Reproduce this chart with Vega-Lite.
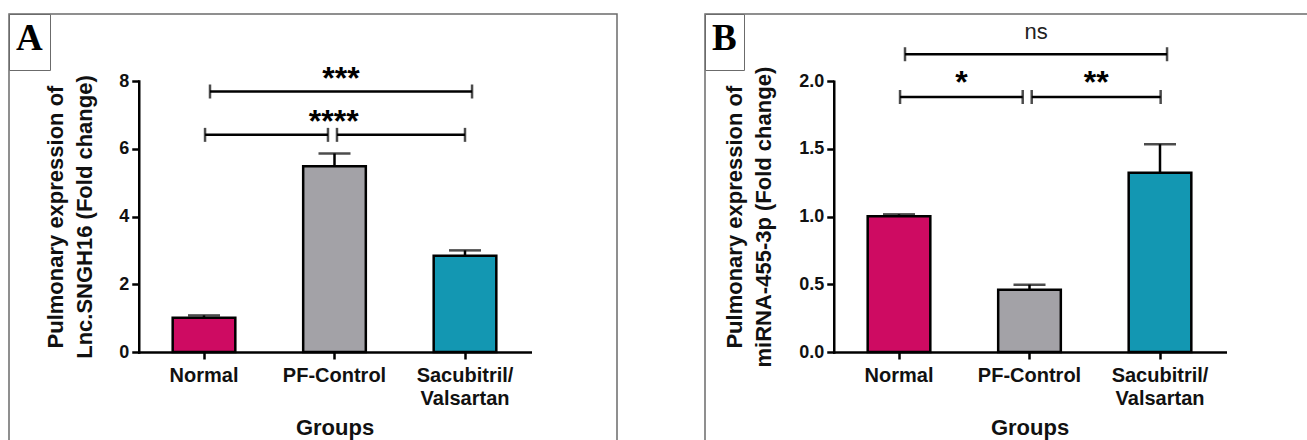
{
  "$schema": "https://vega.github.io/schema/vega-lite/v6.json",
  "padding": {"left": 7, "top": 12, "right": 0, "bottom": 0},
  "spacing": 85,
  "datasets": {
    "barsA": [
      {"group": "Normal", "mean": 1.01, "hi": 1.08, "panel": "A"},
      {"group": "PF-Control", "mean": 5.48, "hi": 5.86, "panel": "A"},
      {"group": "Sacubitril/Valsartan", "mean": 2.84, "hi": 3.0, "panel": "A"}
    ],
    "brA": [
      {"label": "***", "y": 7.69, "x1": 0.546, "x2": 2.554},
      {"label": "****", "y": 6.41, "x1": 0.508, "x2": 1.45},
      {"label": "****", "y": 6.41, "x1": 1.519, "x2": 2.5}
    ],
    "barsB": [
      {"group": "Normal", "mean": 1.003, "hi": 1.017, "panel": "B"},
      {"group": "PF-Control", "mean": 0.46, "hi": 0.497, "panel": "B"},
      {"group": "Sacubitril/Valsartan", "mean": 1.325, "hi": 1.535, "panel": "B"}
    ],
    "brB": [
      {"label": "ns", "y": 2.2, "x1": 0.546, "x2": 2.554},
      {"label": "*", "y": 1.884, "x1": 0.508, "x2": 1.448},
      {"label": "**", "y": 1.884, "x1": 1.517, "x2": 2.505}
    ]
  },
  "hconcat": [
    {
      "width": 608,
      "height": 440,
      "layer": [
        {
          "data": {"name": "barsA"},
          "encoding": {
            "x": {
              "field": "group", "type": "nominal", "sort": null, "title": "Groups",
              "scale": {"range": [129.75, 521.25], "paddingInner": 0.52, "paddingOuter": 0.26},
              "axis": {"offset": -102, "labelAngle": 0, "labelPadding": 6, "labelLineHeight": 23, "titlePadding": 9,
                "labelExpr": "datum.label == 'Sacubitril/Valsartan' ? ['Sacubitril/', 'Valsartan'] : datum.label"}
            }
          },
          "layer": [
            {
              "mark": {"type": "bar", "stroke": "#000", "strokeWidth": 2.5},
              "encoding": {
                "y": {"field": "mean", "type": "quantitative", "title": ["Pulmonary expression of", "Lnc.SNGH16 (Fold change)"],
                  "scale": {"domain": [0, 8], "nice": false, "range": [338, 67]},
                  "axis": {"offset": -129.75, "values": [0, 2, 4, 6, 8], "titlePadding": 22, "titleLineHeight": 29, "labelFontSize": 18}},
                "fill": {"field": "group", "type": "nominal", "legend": null,
                  "scale": {"domain": ["Normal", "PF-Control", "Sacubitril/Valsartan"], "range": ["#CE0B62", "#A3A2A7", "#1397B2"]}}
              }
            },
            {
              "mark": {"type": "rule", "color": "#000", "strokeWidth": 2.5},
              "encoding": {
                "y": {"field": "mean", "type": "quantitative", "title": ["Pulmonary expression of", "Lnc.SNGH16 (Fold change)"], "scale": {"domain": [0, 8], "nice": false, "range": [338, 67]}},
                "y2": {"field": "hi"}
              }
            },
            {
              "mark": {"type": "tick", "orient": "horizontal", "color": "#000", "size": 32, "thickness": 2.5},
              "encoding": {
                "y": {"field": "hi", "type": "quantitative", "title": ["Pulmonary expression of", "Lnc.SNGH16 (Fold change)"], "scale": {"domain": [0, 8], "nice": false, "range": [338, 67]}}
              }
            },
            {
              "mark": {"type": "point", "opacity": 0},
              "encoding": {
                "y": {"field": "mean", "type": "quantitative", "title": ["Pulmonary expression of", "Lnc.SNGH16 (Fold change)"], "scale": {"domain": [0, 8], "nice": false, "range": [338, 67]}},
                "shape": {"field": "panel", "type": "nominal",
                  "legend": {"orient": "top-left", "offset": 0, "title": "A", "padding": 7, "strokeColor": "#6b6b6b", "fillColor": "#ffffff",
                    "titleFont": "Liberation Serif", "titleFontWeight": "bold", "titleFontSize": 37, "titleColor": "#000", "titlePadding": 0,
                    "symbolSize": 0, "symbolOpacity": 0, "symbolStrokeWidth": 0, "labelOffset": 0, "labelFontSize": 0, "labelExpr": "''"}}
              }
            }
          ]
        },
        {
          "data": {"name": "brA"},
          "layer": [
            {
              "mark": {"type": "rule", "color": "#000", "strokeWidth": 2.5},
              "encoding": {
                "x": {"field": "x1", "type": "quantitative", "axis": null, "scale": {"domain": [0, 3], "range": [129.75, 521.25], "nice": false, "zero": false}},
                "x2": {"field": "x2"},
                "y": {"field": "y", "type": "quantitative", "title": ["Pulmonary expression of", "Lnc.SNGH16 (Fold change)"], "scale": {"domain": [0, 8], "nice": false, "range": [338, 67]}}
              }
            },
            {
              "transform": [{"fold": ["x1", "x2"], "as": ["end", "xv"]}],
              "mark": {"type": "tick", "orient": "vertical", "color": "#000", "size": 14, "thickness": 2.5},
              "encoding": {
                "x": {"field": "xv", "type": "quantitative", "axis": null, "scale": {"domain": [0, 3], "range": [129.75, 521.25], "nice": false, "zero": false}},
                "y": {"field": "y", "type": "quantitative", "title": ["Pulmonary expression of", "Lnc.SNGH16 (Fold change)"], "scale": {"domain": [0, 8], "nice": false, "range": [338, 67]}}
              }
            },
            {
              "transform": [{"fold": ["x1", "x2"], "as": ["end", "xv"]}],
              "mark": {"type": "text", "font": "Liberation Sans", "fontWeight": "bold", "fontSize": 32, "baseline": "alphabetic", "dy": -3, "color": "#000"},
              "encoding": {
                "x": {"field": "xv", "aggregate": "mean", "type": "quantitative", "axis": null, "scale": {"domain": [0, 3], "range": [129.75, 521.25], "nice": false, "zero": false}},
                "y": {"field": "y", "type": "quantitative", "title": ["Pulmonary expression of", "Lnc.SNGH16 (Fold change)"], "scale": {"domain": [0, 8], "nice": false, "range": [338, 67]}},
                "text": {"field": "label"}
              }
            }
          ]
        }
      ],
      "resolve": {"scale": {"x": "independent"}}
    },
    {
      "width": 606,
      "height": 440,
      "layer": [
        {
          "data": {"name": "barsB"},
          "encoding": {
            "x": {
              "field": "group", "type": "nominal", "sort": null, "title": "Groups",
              "scale": {"range": [128.75, 520.25], "paddingInner": 0.52, "paddingOuter": 0.26},
              "axis": {"offset": -102, "labelAngle": 0, "labelPadding": 6, "labelLineHeight": 23, "titlePadding": 9,
                "labelExpr": "datum.label == 'Sacubitril/Valsartan' ? ['Sacubitril/', 'Valsartan'] : datum.label"}
            }
          },
          "layer": [
            {
              "mark": {"type": "bar", "stroke": "#000", "strokeWidth": 2.5},
              "encoding": {
                "y": {"field": "mean", "type": "quantitative", "title": ["Pulmonary expression of", "miRNA-455-3p (Fold change)"],
                  "scale": {"domain": [0, 2], "nice": false, "range": [338, 67.3]},
                  "axis": {"offset": -128.75, "values": [0, 0.5, 1, 1.5, 2], "format": ".1f", "titlePadding": 23, "titleLineHeight": 29, "labelFontSize": 18}},
                "fill": {"field": "group", "type": "nominal", "legend": null,
                  "scale": {"domain": ["Normal", "PF-Control", "Sacubitril/Valsartan"], "range": ["#CE0B62", "#A3A2A7", "#1397B2"]}}
              }
            },
            {
              "mark": {"type": "rule", "color": "#000", "strokeWidth": 2.5},
              "encoding": {
                "y": {"field": "mean", "type": "quantitative", "title": ["Pulmonary expression of", "miRNA-455-3p (Fold change)"], "scale": {"domain": [0, 2], "nice": false, "range": [338, 67.3]}},
                "y2": {"field": "hi"}
              }
            },
            {
              "mark": {"type": "tick", "orient": "horizontal", "color": "#000", "size": 32, "thickness": 2.5},
              "encoding": {
                "y": {"field": "hi", "type": "quantitative", "title": ["Pulmonary expression of", "miRNA-455-3p (Fold change)"], "scale": {"domain": [0, 2], "nice": false, "range": [338, 67.3]}}
              }
            },
            {
              "mark": {"type": "point", "opacity": 0},
              "encoding": {
                "y": {"field": "mean", "type": "quantitative", "title": ["Pulmonary expression of", "miRNA-455-3p (Fold change)"], "scale": {"domain": [0, 2], "nice": false, "range": [338, 67.3]}},
                "shape": {"field": "panel", "type": "nominal",
                  "legend": {"orient": "top-left", "offset": 0, "title": "B", "padding": 7, "strokeColor": "#6b6b6b", "fillColor": "#ffffff",
                    "titleFont": "Liberation Serif", "titleFontWeight": "bold", "titleFontSize": 37, "titleColor": "#000", "titlePadding": 0,
                    "symbolSize": 0, "symbolOpacity": 0, "symbolStrokeWidth": 0, "labelOffset": 0, "labelFontSize": 0, "labelExpr": "''"}}
              }
            }
          ]
        },
        {
          "data": {"name": "brB"},
          "layer": [
            {
              "mark": {"type": "rule", "color": "#000", "strokeWidth": 2.5},
              "encoding": {
                "x": {"field": "x1", "type": "quantitative", "axis": null, "scale": {"domain": [0, 3], "range": [128.75, 520.25], "nice": false, "zero": false}},
                "x2": {"field": "x2"},
                "y": {"field": "y", "type": "quantitative", "title": ["Pulmonary expression of", "miRNA-455-3p (Fold change)"], "scale": {"domain": [0, 2], "nice": false, "range": [338, 67.3]}}
              }
            },
            {
              "transform": [{"fold": ["x1", "x2"], "as": ["end", "xv"]}],
              "mark": {"type": "tick", "orient": "vertical", "color": "#000", "size": 14, "thickness": 2.5},
              "encoding": {
                "x": {"field": "xv", "type": "quantitative", "axis": null, "scale": {"domain": [0, 3], "range": [128.75, 520.25], "nice": false, "zero": false}},
                "y": {"field": "y", "type": "quantitative", "title": ["Pulmonary expression of", "miRNA-455-3p (Fold change)"], "scale": {"domain": [0, 2], "nice": false, "range": [338, 67.3]}}
              }
            },
            {
              "transform": [{"fold": ["x1", "x2"], "as": ["end", "xv"]}, {"filter": "datum.label != 'ns'"}],
              "mark": {"type": "text", "font": "Liberation Sans", "fontWeight": "bold", "fontSize": 32, "baseline": "alphabetic", "dy": -4, "color": "#000"},
              "encoding": {
                "x": {"field": "xv", "aggregate": "mean", "type": "quantitative", "axis": null, "scale": {"domain": [0, 3], "range": [128.75, 520.25], "nice": false, "zero": false}},
                "y": {"field": "y", "type": "quantitative", "title": ["Pulmonary expression of", "miRNA-455-3p (Fold change)"], "scale": {"domain": [0, 2], "nice": false, "range": [338, 67.3]}},
                "text": {"field": "label"}
              }
            },
            {
              "transform": [{"fold": ["x1", "x2"], "as": ["end", "xv"]}, {"filter": "datum.label == 'ns'"}],
              "mark": {"type": "text", "font": "Liberation Sans", "fontWeight": "normal", "fontSize": 22, "baseline": "alphabetic", "dy": -15, "color": "#222"},
              "encoding": {
                "x": {"field": "xv", "aggregate": "mean", "type": "quantitative", "axis": null, "scale": {"domain": [0, 3], "range": [128.75, 520.25], "nice": false, "zero": false}},
                "y": {"field": "y", "type": "quantitative", "title": ["Pulmonary expression of", "miRNA-455-3p (Fold change)"], "scale": {"domain": [0, 2], "nice": false, "range": [338, 67.3]}},
                "text": {"field": "label"}
              }
            }
          ]
        }
      ],
      "resolve": {"scale": {"x": "independent"}}
    }
  ],
  "resolve": {"scale": {"x": "independent", "y": "independent", "shape": "independent", "fill": "independent"}, "legend": {"shape": "independent"}},
  "config": {
    "background": "#ffffff",
    "view": {"stroke": "#6b6b6b", "strokeWidth": 1.5},
    "axis": {
      "grid": false,
      "domainColor": "#000", "domainWidth": 2.5, "domainCap": "square",
      "tickColor": "#000", "tickWidth": 2.5, "tickSize": 7,
      "labelFont": "Liberation Sans", "labelFontWeight": "bold", "labelFontSize": 20, "labelColor": "#111", "labelPadding": 3,
      "titleFont": "Liberation Sans", "titleFontWeight": "bold", "titleFontSize": 22, "titleColor": "#111"
    }
  }
}
